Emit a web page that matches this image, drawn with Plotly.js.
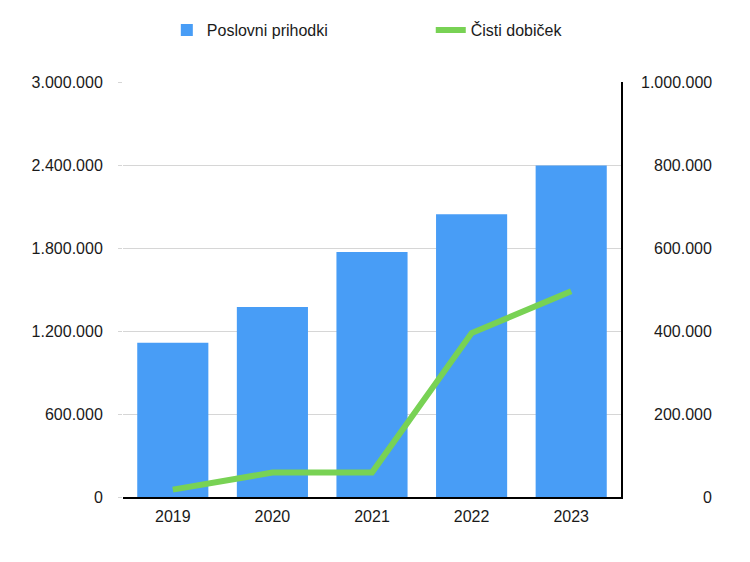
<!DOCTYPE html>
<html>
<head>
<meta charset="utf-8">
<script src="https://cdn.plot.ly/plotly-3.0.1.min.js"></script>
<style>html,body{margin:0;padding:0;background:#fff}#chart{width:750px;height:562px}</style>
</head>
<body>
<div id="chart"></div>
<script>
const years = ['2019', '2020', '2021', '2022', '2023'];
const poslovniPrihodki = [1115000, 1373000, 1771000, 2044000, 2396000];
const cistiDobicek = [17800, 58800, 58800, 395000, 496000];
const leftTicks = [0, 600000, 1200000, 1800000, 2400000, 3000000];
const rightTicks = [0, 200000, 400000, 600000, 800000, 1000000];

function fmt(v) { return v.toString().replace(/\B(?=(\d{3})+(?!\d))/g, '.'); }

const font = {family: '"Liberation Sans", Arial, Helvetica, sans-serif', size: 16, color: '#1a1a1a'};

const traces = [
  {type: 'bar', name: 'Poslovni prihodki', x: years, y: poslovniPrihodki,
   marker: {color: '#489df6'}, yaxis: 'y', legend: 'legend'},
  {type: 'scatter', mode: 'lines', name: 'Čisti dobiček', x: years, y: cistiDobicek,
   line: {color: '#78d254', width: 6}, yaxis: 'y2', legend: 'legend2'}
];

const layout = {
  width: 750, height: 562,
  margin: {l: 123, r: 129, t: 82, b: 65},
  paper_bgcolor: '#fff', plot_bgcolor: '#fff',
  font: font,
  bargap: 0.286,
  showlegend: true,
  legend: {orientation: 'h', x: 0.088, xanchor: 'left', y: 1.125, yanchor: 'middle', font: font},
  legend2: {orientation: 'h', x: 0.618, xanchor: 'left', y: 1.125, yanchor: 'middle', font: font},
  xaxis: {type: 'category', showline: true, linecolor: '#000', linewidth: 1.5,
          ticks: '', showgrid: false, tickfont: font, ticklabelstandoff: 4, fixedrange: true},
  yaxis: {range: [0, 3000000], tickvals: leftTicks, ticktext: leftTicks.map(fmt),
          showgrid: true, gridcolor: '#d6d6d6', gridwidth: 1,
          ticks: 'outside', ticklen: 4, tickcolor: '#d6d6d6',
          showline: false, zeroline: false, tickfont: font, ticklabelstandoff: 12},
  yaxis2: {range: [0, 1000000], overlaying: 'y', side: 'right', tickvals: rightTicks,
           showticklabels: false, showgrid: false, zeroline: false,
           showline: true, linecolor: '#000', linewidth: 1.5, ticks: ''},
  annotations: rightTicks.map(v => ({
    xref: 'paper', yref: 'y2', x: 1, y: v, xanchor: 'right', yanchor: 'middle',
    xshift: 93, text: fmt(v), showarrow: false, font: font
  }))
};

Plotly.newPlot('chart', traces, layout, {displayModeBar: false, staticPlot: true});
</script>
</body>
</html>
